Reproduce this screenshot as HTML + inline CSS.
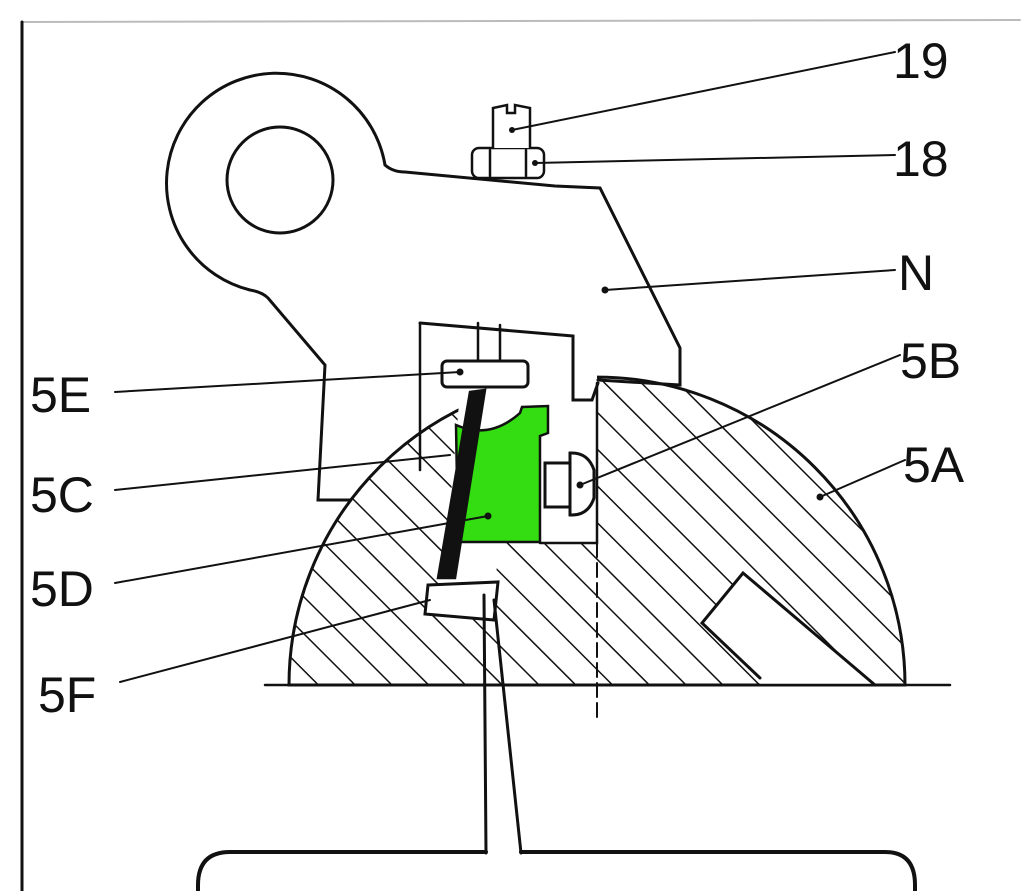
<!DOCTYPE html>
<html><head><style>
html,body{margin:0;padding:0;background:#fff;}
svg{display:block}
text{font-family:"Liberation Sans",sans-serif;font-size:50px;fill:#111;}
</style></head><body>
<svg width="1024" height="891" viewBox="0 0 1024 891" xmlns="http://www.w3.org/2000/svg">
<defs>
<pattern id="h" patternUnits="userSpaceOnUse" width="26" height="26" patternTransform="rotate(-45)">
<rect width="26" height="26" fill="#fff"/>
<line x1="0" y1="0" x2="0" y2="26" stroke="#111" stroke-width="3"/>
</pattern>
</defs>
<rect width="1024" height="891" fill="#fff"/>
<g stroke="#111" fill="none" stroke-width="2.5" stroke-linecap="round">
<line x1="22" y1="22" x2="1020" y2="20" stroke="#bbb" stroke-width="2"/>
<line x1="22" y1="22" x2="22" y2="891" stroke-width="3"/>
<path d="M289,685 A308 308 0 0 1 905,685 Z" fill="url(#h)" stroke-width="3"/>
<path d="M462,370 L597,370 L597,543 L500,543 L490,620 L440,618 Z" fill="#fff" stroke="none"/>
<path d="M420,323 L420,470 M597,383 L597,543 L540,543" />
<path d="M702,623 L743,573 L875,685 L760,685 L760,678 Z" fill="#fff" stroke="none"/>
<path d="M760,678 L702,623 L743,573 L875,685" stroke-width="3"/>
<line x1="265" y1="685" x2="950" y2="685" stroke-width="2.5"/>
<line x1="597" y1="543" x2="597" y2="720" stroke-dasharray="14,6" stroke-width="2"/>
<path d="M385,165 A110 110 0 1 0 250,290 Q262,292 268,298 L325,365 L318,500 L350,500" stroke-width="3"/>
<path d="M385,165 Q393,172 405,172 L555,186 L600,188 L680,348 L680,385 L598,380" stroke-width="3"/>
<path d="M420,323 L573,336 L573,400 L592,400 L598,383" stroke-width="3"/>
<circle cx="280" cy="180" r="53" stroke-width="3"/>
<rect x="472" y="148" width="72" height="30" rx="7" fill="#fff"/>
<line x1="490" y1="150" x2="490" y2="176"/><line x1="526" y1="150" x2="526" y2="176"/>
<path d="M493,148 L493,108 L507,105 L507,113 L515,113 L515,105 L530,108 L530,148" fill="#fff"/>
<line x1="478" y1="323" x2="478" y2="362"/><line x1="500" y1="325" x2="500" y2="362"/>
<rect x="442" y="361" width="86" height="26" rx="5" fill="#fff" stroke-width="3"/>
<path d="M456,425 Q490,440 520,413 L522,407 L548,406 L548,433 L540,436 L540,542 L458,542 Z" fill="#33dd11" stroke="#111" stroke-width="2.5"/>
<path d="M470,392 L485,390 L455,578 L438,578 Z" fill="#111"/>
<path d="M428,585 L498,582 L494,620 L425,614 Z" fill="#fff" stroke-width="3"/>
<rect x="545" y="463" width="25" height="44" fill="#fff" stroke-width="3"/>
<path d="M570,453 Q588,452 594,470 L594,498 Q588,516 570,515 Z" fill="#fff" stroke-width="3"/>
<line x1="484" y1="595" x2="486" y2="853" stroke-width="3"/>
<line x1="494" y1="600" x2="521" y2="853" stroke-width="3"/>
<path d="M198,891 L198,885 Q198,852 230,852 L486,852 M521,852 L885,852 Q915,852 915,885 L915,891" stroke-width="4"/>
<g stroke-width="2">
<line x1="512" y1="130" x2="895" y2="52"/>
<line x1="535" y1="163" x2="895" y2="155"/>
<line x1="605" y1="290" x2="895" y2="270"/>
<line x1="580" y1="485" x2="900" y2="355"/>
<line x1="820" y1="497" x2="905" y2="460"/>
<line x1="115" y1="392" x2="460" y2="372"/>
<line x1="115" y1="490" x2="450" y2="455"/>
<line x1="115" y1="583" x2="488" y2="516"/>
<line x1="120" y1="682" x2="430" y2="600"/>
</g>
<g fill="#111" stroke="none">
<circle cx="512" cy="130" r="3"/><circle cx="535" cy="163" r="3"/><circle cx="605" cy="290" r="3.5"/>
<circle cx="580" cy="485" r="3.5"/><circle cx="820" cy="497" r="3.5"/><circle cx="460" cy="372" r="3.5"/>
<circle cx="488" cy="516" r="3.5"/>
</g>
</g>
<text x="893" y="78">19</text>
<text x="893" y="176">18</text>
<text x="898" y="290">N</text>
<text x="900" y="378">5B</text>
<text x="903" y="482">5A</text>
<text x="30" y="412">5E</text>
<text x="30" y="512">5C</text>
<text x="30" y="606">5D</text>
<text x="38" y="712">5F</text>
</svg>
</body></html>
